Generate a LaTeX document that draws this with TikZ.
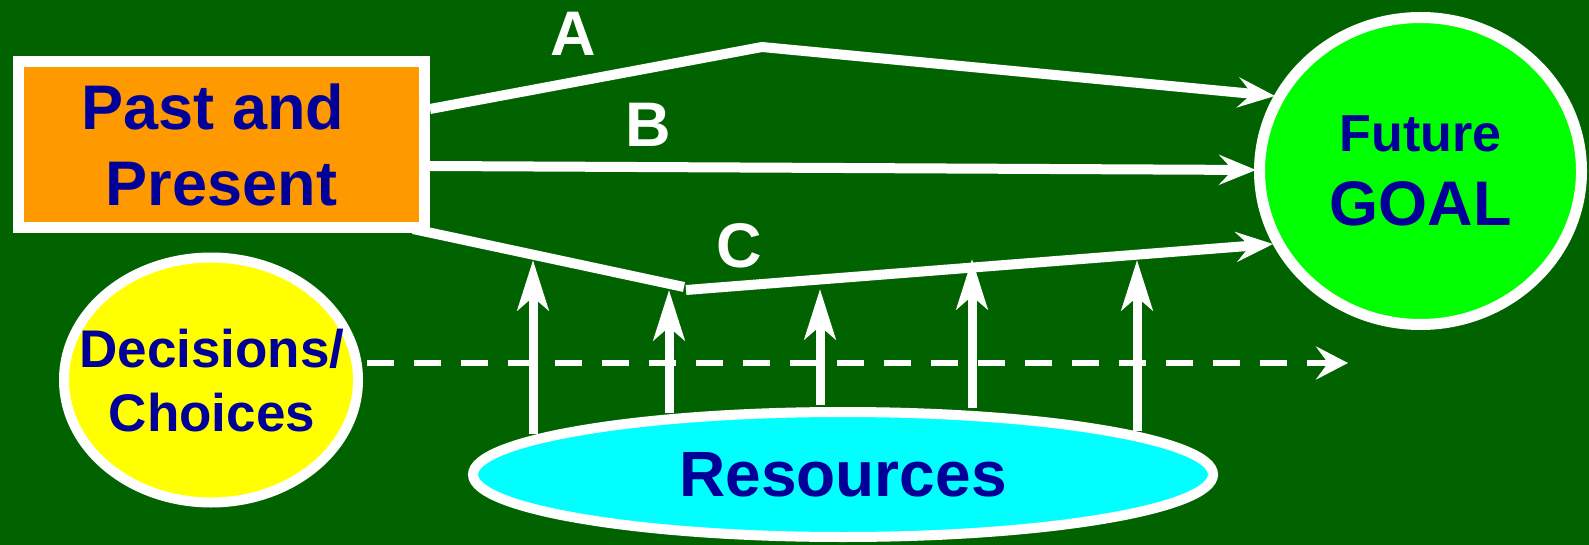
\documentclass[tikz,border=0pt]{standalone}
\usepackage{fontspec}
\setmainfont{Liberation Sans}
\usetikzlibrary{arrows.meta,shapes.geometric}
\definecolor{bgc}{RGB}{0,99,0}
\definecolor{navy}{RGB}{0,0,153}
\definecolor{orng}{RGB}{255,153,0}
\definecolor{ylw}{RGB}{255,255,0}
\definecolor{cyn}{RGB}{0,255,255}
\definecolor{grn}{RGB}{0,255,0}
\begin{document}
\begin{tikzpicture}[x=1pt,y=-1pt,
  pastbox/.style={rectangle,draw=white,line width=11pt,fill=orng,inner sep=0pt,
    minimum width=406pt,minimum height=166pt,text=navy,align=center,
    font=\bfseries\fontsize{63}{76}\selectfont},
  goalnode/.style={ellipse,draw=white,line width=11pt,fill=grn,inner sep=0pt,
    minimum width=322pt,minimum height=307pt,text=navy,align=center,
    font=\bfseries\fontsize{63}{74}\selectfont},
  decnode/.style={ellipse,draw=white,line width=10pt,fill=ylw,inner sep=0pt,
    minimum width=294pt,minimum height=245pt},
  dectext/.style={text=navy,align=center,inner sep=0pt,
    font=\bfseries\fontsize{53}{64}\selectfont},
  resnode/.style={ellipse,draw=white,line width=10pt,fill=cyn,inner sep=0pt,
    minimum width=740pt,minimum height=125pt,text=navy,align=center,
    font=\bfseries\fontsize{64}{76}\selectfont},
  pathlabel/.style={text=white,anchor=base,inner sep=0pt,
    font=\bfseries\fontsize{63}{76}\selectfont},
  route/.style={draw=white,line width=10pt,line join=miter,
    -{Stealth[length=37pt,width=30pt,inset=14pt]}},
  routeplain/.style={draw=white,line width=10pt,line join=miter},
  upflow/.style={draw=white,line width=9pt,
    -{Stealth[length=50pt,width=31pt,inset=13pt]}},
  choiceflow/.style={draw=white,line width=5.5pt,dash pattern=on 27pt off 20pt,
    -{Stealth[length=32pt,width=33pt,inset=12pt]}}
]
\useasboundingbox (0,0) rectangle (1589,545);
\fill[bgc] (0,0) rectangle (1589,545);

% main nodes
\node[pastbox] (past) at (221.5,144.5) {Past and\kern17pt\\Present};
\node[goalnode] (goal) at (1420.5,171) {{\fontsize{52}{74}\selectfont Future}\\GOAL};
\node[decnode] (dec) at (211,380) {};
\node[dectext] (dect) at (212,381) {Decisions/\\Choices};
\node[resnode] (res) at (843,474.5) {Resources};

% route coordinates
\coordinate (a0) at (430,109);
\coordinate (a1) at (762,47);
\coordinate (a2) at (1275,96);
\coordinate (b0) at (430,166);
\coordinate (b2) at (1256,170);
\coordinate (c0) at (413,229);
\coordinate (c1) at (684,287);
\coordinate (c2) at (686,290);
\coordinate (c3) at (1273,244);

% routes A, B, C
\draw[route] (a0) -- (a1) -- (a2);
\draw[route] (b0) -- (b2);
\draw[routeplain] (c0) -- (c1);
\draw[route] (c2) -- (c3);

% labels
\node[pathlabel] (la) at (573,56) {A};
\node[pathlabel] (lb) at (648,147) {B};
\node[pathlabel] (lc) at (739,268) {C};

% dashed decisions arrow
\coordinate (d0) at (367,363);
\coordinate (d1) at (1348,363);
\draw[choiceflow] (d0) -- (d1);

% resource arrows
\coordinate (r1s) at (533,434);
\coordinate (r1t) at (533,260);
\coordinate (r2s) at (669,413);
\coordinate (r2t) at (669,290);
\coordinate (r3s) at (820,405);
\coordinate (r3t) at (820,289);
\coordinate (r4s) at (972,408);
\coordinate (r4t) at (972,259);
\coordinate (r5s) at (1137,431);
\coordinate (r5t) at (1137,260);
\draw[upflow] (r1s) -- (r1t);
\draw[upflow] (r2s) -- (r2t);
\draw[upflow] (r3s) -- (r3t);
\draw[upflow] (r4s) -- (r4t);
\draw[upflow] (r5s) -- (r5t);
\end{tikzpicture}
\end{document}
